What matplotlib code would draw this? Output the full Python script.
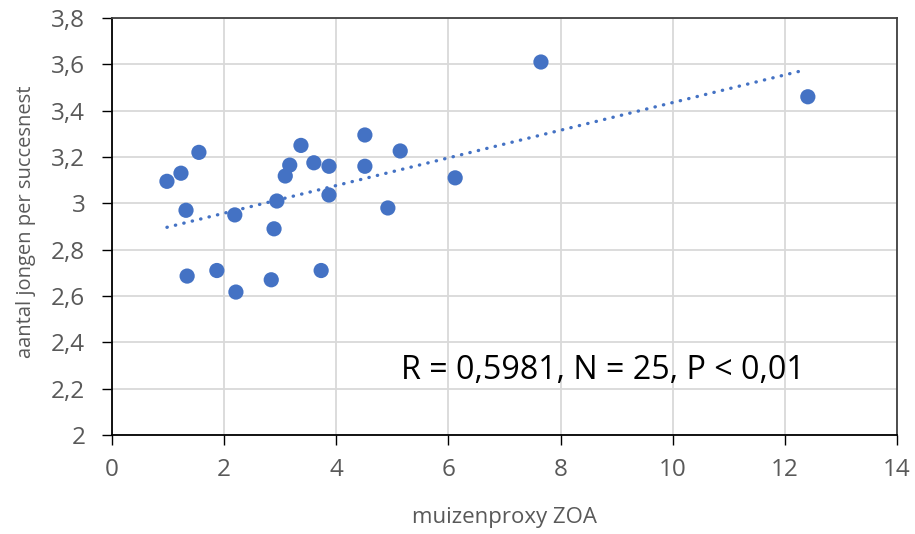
import matplotlib
matplotlib.use("Agg")
import matplotlib.pyplot as plt
import numpy as np

plt.rcParams['font.family'] = ['Open Sans', 'DejaVu Sans']

x_vals = [0.98, 1.23, 1.55, 1.32, 1.34, 1.87, 2.19, 2.21, 2.84, 2.89, 2.94, 3.09, 3.17,
          3.37, 3.60, 3.73, 3.87, 3.87, 4.51, 4.51, 4.92, 5.14, 6.12, 7.65, 12.41]
y_vals = [3.095, 3.13, 3.22, 2.97, 2.686, 2.71, 2.95, 2.617, 2.67, 2.89, 3.01, 3.118, 3.165,
          3.25, 3.175, 2.71, 3.16, 3.036, 3.295, 3.16, 2.98, 3.226, 3.11, 3.61, 3.46]
x_ticks = [0, 2, 4, 6, 8, 10, 12, 14]
y_ticks = [2.0, 2.2, 2.4, 2.6, 2.8, 3.0, 3.2, 3.4, 3.6, 3.8]
y_tick_labels = ['2', '2,2', '2,4', '2,6', '2,8', '3', '3,2', '3,4', '3,6', '3,8']
annotation = 'R = 0,5981, N = 25, P < 0,01'

blue = '#4472C4'
gray_text = '#595959'

W, H = 915, 534
fig = plt.figure(figsize=(W / 100, H / 100), dpi=100)
ax = fig.add_axes([112 / W, 1 - 435 / H, (897 - 112) / W, (435 - 18) / H])

ax.set_xlim(0, 14)
ax.set_ylim(2, 3.8)
ax.set_xticks(x_ticks)
ax.set_xticklabels([str(t) for t in x_ticks])
ax.set_yticks(y_ticks)
ax.set_yticklabels(y_tick_labels)

ax.grid(True, color='#D9D9D9', linewidth=1.3, zorder=0)
ax.set_axisbelow(True)

for s in ['top', 'right']:
    ax.spines[s].set_color('#404040')
    ax.spines[s].set_linewidth(1.3)
for s in ['left', 'bottom']:
    ax.spines[s].set_color('black')
    ax.spines[s].set_linewidth(1.3)

ax.tick_params(axis='both', direction='out', length=7.2, width=1.0, color='black',
               labelsize=17.5, labelcolor=gray_text)
ax.tick_params(axis='x', pad=9)
ax.tick_params(axis='y', pad=12)

xa = np.array(x_vals)
ya = np.array(y_vals)
slope, intercept = np.polyfit(xa, ya, 1)
xt = np.linspace(xa.min(), xa.max() - 0.1, 100)
ax.plot(xt, slope * xt + intercept, linestyle=(0, (0.1, 2.5)), color=blue,
        linewidth=2.4, dash_capstyle='round', zorder=2)

ax.scatter(xa, ya, s=120, color=blue, edgecolors='none', zorder=3)

fig.text(505 / W, 1 - 523 / H, 'muizenproxy ZOA', fontsize=16, color=gray_text,
         ha='center', va='baseline')
fig.text(26 / W, 1 - 222 / H, 'aantal jongen per succesnest', fontsize=14.5,
         color=gray_text, ha='center', va='center', rotation=90)

ax.text(8.76, 2.242, annotation, fontsize=23.2, color='black', ha='center', va='baseline')

fig.savefig('out.png', dpi=100)
